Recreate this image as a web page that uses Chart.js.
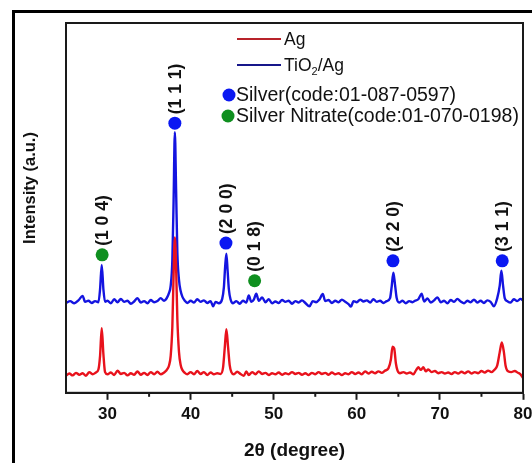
<!DOCTYPE html>
<html>
<head>
<meta charset="utf-8">
<script src="https://cdn.jsdelivr.net/npm/chart.js@4.4.1/dist/chart.umd.min.js"></script>
<style>
  html, body { margin: 0; padding: 0; background: #fff; }
  canvas { display: block; }
</style>
</head>
<body>
<canvas id="xrd" width="532" height="463"></canvas>
<script>
// XRD patterns of Ag and TiO2/Ag (arbitrary units, 0-100)

const agAngle = [25.0, 25.4, 25.8, 26.2, 26.6, 27.0, 27.4, 27.8, 28.2, 28.6, 28.9, 29.1, 29.3, 29.5, 29.7,
  30.0, 30.4, 30.8, 31.2, 31.6, 32.0, 32.4, 32.8, 33.2, 33.6, 34.0, 34.4, 34.8, 35.2, 35.6, 36.0, 36.4, 36.8,
  37.1, 37.4, 37.6, 37.8, 37.95, 38.1, 38.25, 38.4, 38.6, 38.8, 39.0, 39.3, 39.6,
  40.0, 40.4, 40.8, 41.2, 41.6, 42.0, 42.4, 42.8, 43.2, 43.6, 43.9, 44.1, 44.3, 44.5, 44.7, 44.9,
  45.2, 45.6, 46.0, 46.4, 46.7, 47.0, 47.4, 47.8, 48.2, 48.6, 49.0, 49.4, 49.8,
  50.2, 50.6, 51.0, 51.4, 51.8, 52.2, 52.6, 53.0, 53.4, 53.8, 54.2, 54.6, 55.0, 55.4, 55.8,
  56.2, 56.6, 57.0, 57.4, 57.8, 58.2, 58.6, 59.0, 59.4, 59.8, 60.2, 60.6, 61.0, 61.4, 61.8,
  62.2, 62.6, 63.0, 63.4, 63.8, 64.1, 64.3, 64.5, 64.7, 64.9, 65.2, 65.6, 66.0, 66.4, 66.8,
  67.1, 67.4, 67.7, 68.0, 68.3, 68.6, 69.0, 69.4, 69.8, 70.2, 70.6, 71.0, 71.4, 71.8,
  72.2, 72.6, 73.0, 73.4, 73.8, 74.2, 74.6, 75.0, 75.4, 75.8, 76.2, 76.6, 76.9,
  77.2, 77.45, 77.7, 77.9, 78.2, 78.6, 79.0, 79.4, 79.7, 80.0];
const agCounts = [4.6, 5.2, 4.7, 5.4, 4.9, 5.3, 4.6, 5.6, 5.0, 5.5, 6.3, 10.0, 17.5, 10.5, 5.6,
  5.0, 5.5, 4.8, 6.0, 5.1, 5.4, 4.7, 5.3, 4.9, 5.8, 4.9, 5.4, 4.8, 5.6, 5.0, 5.7, 5.0, 5.5,
  6.1, 7.4, 10.0, 18.0, 32.0, 42.0, 34.0, 20.0, 11.0, 7.5, 6.2, 5.4, 5.0,
  5.6, 5.0, 5.9, 5.1, 5.6, 4.8, 5.5, 5.0, 5.3, 5.1, 6.8, 12.0, 17.2, 12.5, 7.5, 5.6,
  5.0, 5.7, 5.1, 4.6, 5.8, 4.8, 5.6, 5.0, 5.8, 5.1, 5.4, 4.8, 5.3,
  5.0, 5.5, 4.9, 5.3, 5.0, 5.6, 5.1, 5.4, 4.9, 5.3, 4.8, 5.4, 5.0, 5.6, 5.1,
  5.4, 4.9, 5.5, 5.0, 5.3, 4.8, 5.3, 5.0, 5.6, 5.1, 5.5, 5.0, 5.8, 5.2, 5.7,
  5.3, 5.8, 5.4, 6.0, 6.6, 9.0, 12.5, 12.0, 8.0, 6.0, 5.3, 5.6, 5.2, 5.5, 5.0,
  6.0, 6.9, 6.2, 6.9, 5.8, 6.3, 5.6, 5.9, 5.3, 5.6, 5.2, 5.5, 5.1, 5.6,
  5.2, 5.7, 5.3, 5.8, 5.2, 5.6, 5.3, 5.9, 5.5, 6.0, 5.6, 6.3, 7.4,
  11.0, 13.6, 11.0, 7.4, 5.8, 5.6, 5.9, 5.4, 5.0, 4.0];

const tiAngle = [25.0, 25.5, 26.0, 26.5, 27.0, 27.3, 27.7, 28.1, 28.5, 28.9, 29.1, 29.3, 29.5, 29.7,
  30.0, 30.4, 30.8, 31.2, 31.6, 32.0, 32.4, 32.8, 33.2, 33.6, 34.0, 34.4, 34.8, 35.2, 35.6, 36.0, 36.4, 36.8,
  37.1, 37.4, 37.6, 37.8, 37.95, 38.1, 38.25, 38.4, 38.6, 38.8, 39.0, 39.3, 39.6,
  40.0, 40.4, 40.8, 41.2, 41.6, 42.0, 42.4, 42.7, 43.0, 43.4, 43.8, 44.0, 44.15, 44.3, 44.45, 44.6, 44.8,
  45.1, 45.5, 45.9, 46.3, 46.7, 47.0, 47.3, 47.6, 47.9, 48.2, 48.6, 49.0, 49.4, 49.8,
  50.2, 50.6, 51.0, 51.4, 51.8, 52.2, 52.6, 53.0, 53.4, 53.8, 54.3, 54.7, 55.1, 55.5, 55.9,
  56.2, 56.6, 57.0, 57.4, 57.8, 58.2, 58.6, 59.0, 59.3, 59.6, 60.0, 60.4, 60.8, 61.2, 61.6,
  62.0, 62.4, 62.8, 63.2, 63.6, 64.0, 64.2, 64.4, 64.6, 64.8, 65.1, 65.5, 65.9, 66.3, 66.7,
  67.0, 67.4, 67.8, 68.1, 68.5, 68.9, 69.3, 69.7, 70.1, 70.5, 70.9, 71.3, 71.7,
  72.1, 72.5, 72.9, 73.3, 73.7, 74.1, 74.5, 74.9, 75.3, 75.7, 76.1, 76.5, 76.9,
  77.2, 77.4, 77.6, 77.8, 78.1, 78.5, 78.9, 79.3, 79.7, 80.0];
const tiCounts = [24.3, 24.8, 24.2, 25.0, 26.2, 24.6, 24.9, 24.3, 24.8, 24.5, 28.0, 34.6, 28.0, 24.6,
  24.9, 24.2, 25.3, 24.5, 25.4, 24.6, 24.9, 24.1, 24.7, 25.6, 24.4, 24.8, 24.2, 25.1, 24.5, 24.8, 25.6, 24.9,
  25.5, 27.0, 29.0, 36.0, 52.0, 70.5, 55.0, 38.0, 30.5, 27.5, 26.0, 24.9, 24.3,
  24.9, 24.4, 25.3, 24.6, 25.0, 24.3, 24.8, 23.4, 24.6, 24.2, 25.4, 28.5, 34.0, 37.6, 33.0, 28.0, 25.3,
  24.2, 24.8, 24.1, 24.9, 24.4, 26.3, 24.6, 25.2, 26.8, 24.9, 25.8, 24.5, 25.3, 24.2,
  24.7, 24.3, 25.1, 24.6, 24.9, 24.1, 24.8, 24.4, 25.0, 24.3, 23.4, 24.8, 24.5, 25.2, 26.7,
  24.8, 25.1, 24.3, 24.9, 24.5, 25.2, 24.6, 24.0, 23.3, 24.8, 24.5, 25.2, 24.7, 25.0, 24.4,
  25.3, 24.6, 24.9, 24.3, 24.8, 25.6, 28.8, 32.5, 29.2, 25.6, 24.4, 24.9, 24.2, 24.8, 24.5,
  24.9, 25.3, 26.8, 24.7, 25.5, 24.4, 25.0, 25.8, 24.5, 24.9, 24.2, 25.1, 24.6,
  25.4, 24.7, 24.2, 24.9, 24.5, 25.2, 24.4, 24.9, 24.3, 25.0, 24.6, 23.4, 25.6,
  29.0, 33.0, 29.0, 25.6, 24.8, 24.4, 25.3, 24.8, 25.4, 25.0];

// reference peak markers
const silverAngle = [38.1, 44.25, 64.35, 77.5];
const silverLevel = [72.9, 40.5, 35.7, 35.7];
const silverHkl = ['(1 1 1)', '(2 0 0)', '(2 2 0)', '(3 1 1)'];
const nitrateAngle = [29.35, 47.7];
const nitrateLevel = [37.3, 30.3];
const nitrateHkl = ['(1 0 4)', '(0 1 8)'];

const xTicks = [30, 40, 50, 60, 70, 80];

const RED = '#e8121c';
const BLUE = '#1414e0';
const DOT_BLUE = '#0a18f2';
const DOT_GREEN = '#0f8f1f';
const FONT = 'Arial, "Liberation Sans", Helvetica, sans-serif';

const toPoints = (xs, ys) => xs.map((x, i) => ({ x, y: ys[i] }));

// outer frame, plot box, minor ticks, peak labels, legend, y title
const decorPlugin = {
    id: 'decor',
    beforeDraw(chart) {
        const c = chart.ctx;
        c.save();
        c.fillStyle = '#fff';
        c.fillRect(0, 0, chart.width, chart.height);
        c.fillStyle = '#000';
        c.fillRect(12, 10, 3, chart.height - 10);
        c.fillRect(12, 10, chart.width - 12, 3);
        c.restore();
    },
    afterDraw(chart) {
        const c = chart.ctx;
        const a = chart.chartArea;
        const xs = chart.scales.x;
        c.save();

        // plot box
        c.strokeStyle = '#1a1a1a';
        c.lineWidth = 2;
        c.strokeRect(a.left, a.top, a.right - a.left, a.bottom - a.top);

        // minor ticks
        xs.ticks.forEach(t => {
            if (t.value % 10 === 0) return;
            const px = xs.getPixelForValue(t.value);
            c.beginPath();
            c.moveTo(px, a.bottom);
            c.lineTo(px, a.bottom + 4);
            c.stroke();
        });

        // hkl labels above markers
        c.fillStyle = '#111';
        c.font = 'bold 17.5px ' + FONT;
        c.textAlign = 'left';
        c.textBaseline = 'middle';
        [[2, silverHkl], [3, nitrateHkl]].forEach(([di, labels]) => {
            chart.getDatasetMeta(di).data.forEach((pt, i) => {
                c.save();
                c.translate(pt.x, pt.y - 9);
                c.rotate(-Math.PI / 2);
                c.fillText(labels[i], 0, 1);
                c.restore();
            });
        });

        // legend
        const lf = '17.5px ' + FONT;
        c.lineWidth = 2;
        c.font = lf;
        c.fillStyle = '#111';
        c.strokeStyle = '#b8232a';
        c.beginPath(); c.moveTo(237, 39); c.lineTo(281, 39); c.stroke();
        c.fillText('Ag', 284, 40);
        c.strokeStyle = '#16168a';
        c.beginPath(); c.moveTo(237, 65); c.lineTo(281, 65); c.stroke();
        let tx = 284;
        c.fillText('TiO', tx, 66);
        tx += c.measureText('TiO').width;
        c.font = '11px ' + FONT;
        c.fillText('2', tx, 72);
        tx += c.measureText('2').width;
        c.font = lf;
        c.fillText('/Ag', tx, 66);

        c.fillStyle = DOT_BLUE;
        c.beginPath(); c.arc(229, 95, 6.5, 0, Math.PI * 2); c.fill();
        c.fillStyle = DOT_GREEN;
        c.beginPath(); c.arc(228, 116, 6.5, 0, Math.PI * 2); c.fill();
        c.fillStyle = '#111';
        c.font = '19.5px ' + FONT;
        c.fillText('Silver(code:01-087-0597)', 236, 96);
        c.fillText('Silver Nitrate(code:01-070-0198)', 236, 117);

        // y axis title
        c.font = 'bold 16.5px ' + FONT;
        c.textAlign = 'center';
        c.translate(30, 188);
        c.rotate(-Math.PI / 2);
        c.fillText('Intensity (a.u.)', 0, 0);
        c.restore();
    }
};

const lineStyle = { showLine: true, borderWidth: 2.4, pointRadius: 0, cubicInterpolationMode: 'monotone' };

new Chart(document.getElementById('xrd'), {
    type: 'scatter',
    data: {
        datasets: [
            { label: 'Ag', data: toPoints(agAngle, agCounts), borderColor: RED, ...lineStyle },
            { label: 'TiO2/Ag', data: toPoints(tiAngle, tiCounts), borderColor: BLUE, ...lineStyle },
            { label: 'Silver', data: toPoints(silverAngle, silverLevel), showLine: false,
              pointRadius: 6.5, backgroundColor: DOT_BLUE, borderColor: DOT_BLUE, borderWidth: 0 },
            { label: 'Silver Nitrate', data: toPoints(nitrateAngle, nitrateLevel), showLine: false,
              pointRadius: 6.5, backgroundColor: DOT_GREEN, borderColor: DOT_GREEN, borderWidth: 0 },
        ]
    },
    options: {
        responsive: false,
        devicePixelRatio: 1,
        animation: false,
        layout: { padding: { left: 66, top: 23, right: 9, bottom: 0 } },
        plugins: { legend: { display: false }, tooltip: { enabled: false } },
        scales: {
            x: {
                type: 'linear',
                min: 25,
                max: 80,
                afterBuildTicks: (scale) => {
                    scale.ticks = scale.ticks.filter(t => t.value > 25);
                },
                afterFit: (scale) => {
                    // let the "80" label run past the plot edge like the original
                    scale.paddingRight = 0;
                    scale.paddingLeft = 0;
                },
                ticks: {
                    stepSize: 5,
                    autoSkip: false,
                    maxRotation: 0,
                    padding: 4,
                    color: '#111',
                    font: { family: FONT, size: 17, weight: 'bold' },
                    callback: (v) => (xTicks.includes(v) ? String(v) : ''),
                },
                grid: {
                    drawOnChartArea: false,
                    drawTicks: true,
                    tickLength: 7,
                    tickWidth: 2,
                    tickColor: (ctx) => (ctx.tick && ctx.tick.value % 10 === 0 ? '#1a1a1a' : 'rgba(0,0,0,0)'),
                },
                border: { display: true, color: '#1a1a1a', width: 2 },
                title: {
                    display: true,
                    text: '2θ (degree)',
                    color: '#111',
                    font: { family: FONT, size: 19, weight: 'bold' },
                    padding: { top: 11, bottom: 1 },
                },
            },
            y: {
                display: false,
                min: 0,
                max: 100,
            }
        }
    },
    plugins: [decorPlugin]
});
</script>
</body>
</html>
